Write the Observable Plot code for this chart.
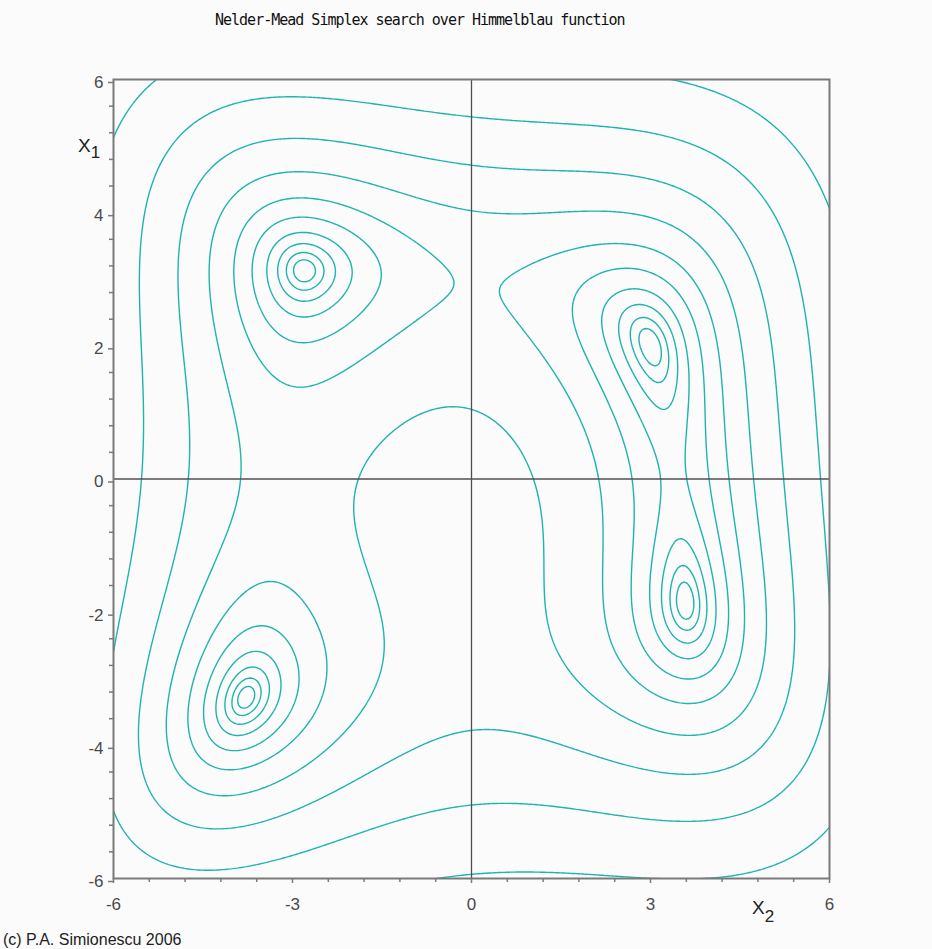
<!DOCTYPE html>
<html>
<head>
<meta charset="utf-8">
<script src="https://cdn.jsdelivr.net/npm/d3@7"></script>
<script src="https://cdn.jsdelivr.net/npm/@observablehq/plot@0.6"></script>
<style>
  html, body { margin: 0; padding: 0; background: #fbfbfb; }
  #wrap { position: relative; width: 932px; height: 949px; overflow: hidden; }
  #title { height: 40px; line-height: 40px; padding-left: 215px; font-family: "DejaVu Sans Mono", monospace; font-size: 15px; letter-spacing: -1px; color: #111; white-space: nowrap; }
  #caption { height: 19px; line-height: 19px; padding-left: 3px; font-family: "Liberation Sans", Arial, sans-serif; font-size: 16px; color: #222; white-space: nowrap; }
  .axlab { position: absolute; font-family: "Liberation Sans", Arial, sans-serif; font-size: 19px; line-height: 20px; color: #222; white-space: nowrap; }
  .axlab span { font-size: 17px; position: relative; }
  svg { display: block; }
</style>
</head>
<body>
<div id="wrap">
  <div id="title">Nelder-Mead Simplex search over Himmelblau function</div>
  <div id="chart"></div>
  <div id="caption">(c) P.A. Simionescu 2006</div>
  <div class="axlab" style="left:78px; top:136px;">X<span style="top:6px;">1</span></div>
  <div class="axlab" style="left:752px; top:898px;">X<span style="top:8px;">2</span></div>
</div>
<script>
// Contour levels (function values of each drawn curve)
const levels = [1.1, 3.2, 7.4, 15.6, 32.7, 65.4, 134, 271, 541, 1085];
// Plotted domain
const xDomain = [-6, 6];
const yDomain = [-6, 6];
// Tick values
const xTickLabels = [-6, -3, 0, 3, 6];
const xMinorTicks = [-5.4, -4.8, -4.2, -3.6, -2.4, -1.8, -1.2, -0.6, 0.6, 1.2, 1.8, 2.4, 3.6, 4.2, 4.8, 5.4];
const yTickLabels = [-6, -4, -2, 0, 2, 4, 6];
const yMinorTicks = [-5.6, -5.2, -4.8, -4.4, -3.6, -3.2, -2.8, -2.4, -1.6, -1.2, -0.8, -0.4, 0.4, 0.8, 1.2, 1.6, 2.4, 2.8, 3.2, 3.6, 4.4, 4.8, 5.2, 5.6];
const zeroLines = [0];

// The surface named in the title: Himmelblau's function
const himmelblau = (x, y) => (x * x + y - 11) ** 2 + (x + y * y - 7) ** 2;

const teal = "#1fb4ae";
const axisGray = "#7a7a7a";
const labelGray = "#4a4a4a";

const chart = Plot.plot({
  width: 932,
  height: 890,
  marginTop: 39,
  marginBottom: 52,
  marginLeft: 113,
  marginRight: 103,
  style: { background: "transparent", fontFamily: "Liberation Sans, Arial, sans-serif", fontSize: "17px" },
  x: { domain: xDomain },
  y: { domain: yDomain },
  marks: [
    Plot.contour({
      value: himmelblau,
      // sample a little past the frame so the contour outlines' boundary edges fall outside and are clipped
      x1: xDomain[0] - 0.3, x2: xDomain[1] + 0.3, y1: yDomain[0] - 0.3, y2: yDomain[1] + 0.3,
      thresholds: levels,
      pixelSize: 2,
      fill: "none",
      stroke: teal,
      strokeWidth: 1.4,
      clip: "frame"
    }),
    Plot.ruleX(zeroLines, { stroke: "#505050", strokeWidth: 1.3 }),
    Plot.ruleY(zeroLines, { stroke: "#505050", strokeWidth: 1.3 }),
    Plot.frame({ stroke: axisGray, strokeWidth: 2 }),
    Plot.axisX(xTickLabels, { tickSize: 5, tickPadding: 14, fontSize: 17, tickFormat: d => String(d), label: null, stroke: axisGray, fill: labelGray, strokeWidth: 1.5 }),
    Plot.axisX(xMinorTicks, { tickSize: 4, tickFormat: () => "", label: null, stroke: axisGray, strokeWidth: 1.5 }),
    Plot.axisY(yTickLabels, { tickSize: 5, tickPadding: 5, dy: 3, fontSize: 17, tickFormat: d => String(d), label: null, stroke: axisGray, fill: labelGray, strokeWidth: 1.5 }),
    Plot.axisY(yMinorTicks, { tickSize: 4, tickFormat: () => "", label: null, stroke: axisGray, strokeWidth: 1.5 })
  ]
});
document.getElementById("chart").appendChild(chart);
</script>
</body>
</html>
